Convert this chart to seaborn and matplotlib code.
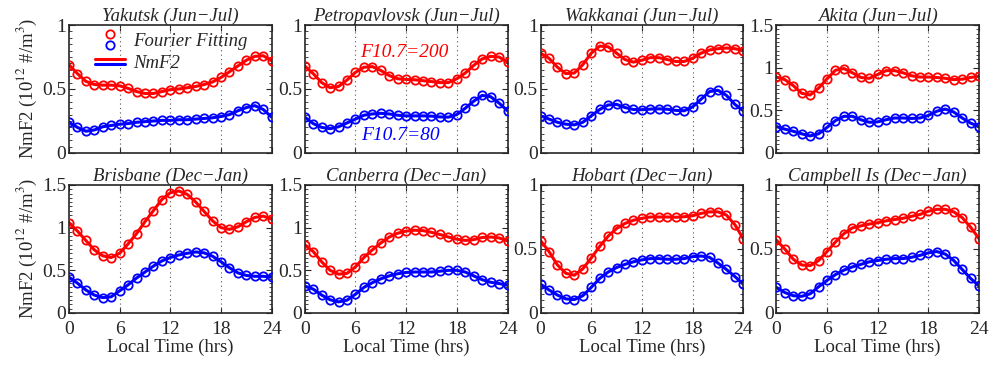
import numpy as np
import pandas as pd
import seaborn as sns
import matplotlib
matplotlib.use('Agg')
import matplotlib.pyplot as plt
from matplotlib.lines import Line2D
from matplotlib.legend_handler import HandlerBase
from matplotlib.ticker import MultipleLocator

sns.set_style('ticks')
plt.rcParams['font.family'] = ['Liberation Serif', 'DejaVu Serif']
plt.rcParams['mathtext.fontset'] = 'stix'

hours = list(range(25))

stations = ['Yakutsk', 'Petropavlovsk', 'Wakkanai', 'Akita',
            'Brisbane', 'Canberra', 'Hobart', 'Campbell Is']
seasons = ['Jun−Jul'] * 4 + ['Dec−Jan'] * 4
ymax = [1, 1, 1, 1.5, 1.5, 1.5, 1, 1]

# F10.7 = 200 (red)
yakutsk_hi = [0.69, 0.62, 0.56, 0.535, 0.53, 0.53, 0.525, 0.505, 0.48, 0.465, 0.465, 0.48, 0.495,
              0.50, 0.51, 0.52, 0.535, 0.555, 0.59, 0.635, 0.68, 0.725, 0.755, 0.76, 0.72]
petro_hi = [0.68, 0.62, 0.55, 0.51, 0.52, 0.57, 0.63, 0.67, 0.675, 0.645, 0.605, 0.58, 0.575,
            0.572, 0.565, 0.558, 0.55, 0.55, 0.58, 0.625, 0.685, 0.735, 0.755, 0.75, 0.71]
wakkanai_hi = [0.78, 0.74, 0.67, 0.62, 0.625, 0.69, 0.78, 0.835, 0.83, 0.78, 0.73, 0.71, 0.725,
               0.745, 0.745, 0.73, 0.715, 0.715, 0.74, 0.78, 0.805, 0.815, 0.82, 0.815, 0.80]
akita_hi = [0.89, 0.86, 0.79, 0.70, 0.68, 0.76, 0.87, 0.97, 0.99, 0.94, 0.885, 0.875, 0.92,
            0.965, 0.965, 0.94, 0.905, 0.89, 0.89, 0.885, 0.875, 0.86, 0.865, 0.885, 0.90]
brisbane_hi = [1.06, 0.96, 0.85, 0.74, 0.67, 0.65, 0.70, 0.81, 0.93, 1.07, 1.20, 1.33, 1.41,
               1.43, 1.39, 1.30, 1.19, 1.08, 1.00, 0.98, 1.01, 1.07, 1.12, 1.135, 1.10]
canberra_hi = [0.80, 0.72, 0.60, 0.50, 0.455, 0.465, 0.54, 0.65, 0.74, 0.82, 0.89, 0.935, 0.96,
               0.97, 0.965, 0.945, 0.92, 0.89, 0.865, 0.85, 0.86, 0.885, 0.89, 0.88, 0.845]
hobart_hi = [0.565, 0.48, 0.375, 0.31, 0.295, 0.345, 0.43, 0.52, 0.60, 0.66, 0.70, 0.725, 0.74,
             0.75, 0.75, 0.75, 0.748, 0.752, 0.76, 0.778, 0.79, 0.79, 0.765, 0.69, 0.58]
campbell_hi = [0.57, 0.50, 0.42, 0.375, 0.37, 0.41, 0.48, 0.555, 0.62, 0.665, 0.68, 0.695, 0.705,
               0.72, 0.73, 0.74, 0.755, 0.77, 0.795, 0.81, 0.81, 0.79, 0.745, 0.67, 0.58]

# F10.7 = 80 (blue)
yakutsk_lo = [0.24, 0.20, 0.17, 0.18, 0.205, 0.215, 0.225, 0.23, 0.24, 0.245, 0.25, 0.255, 0.255,
              0.26, 0.26, 0.265, 0.27, 0.275, 0.285, 0.30, 0.33, 0.355, 0.37, 0.34, 0.28]
petro_lo = [0.28, 0.23, 0.20, 0.19, 0.205, 0.235, 0.265, 0.295, 0.305, 0.31, 0.305, 0.295, 0.29,
            0.29, 0.29, 0.288, 0.282, 0.28, 0.30, 0.35, 0.405, 0.45, 0.44, 0.39, 0.33]
wakkanai_lo = [0.29, 0.265, 0.24, 0.225, 0.22, 0.24, 0.29, 0.34, 0.375, 0.38, 0.355, 0.34, 0.338,
               0.343, 0.345, 0.342, 0.333, 0.33, 0.36, 0.42, 0.48, 0.49, 0.45, 0.38, 0.33]
akita_lo = [0.31, 0.28, 0.255, 0.225, 0.20, 0.225, 0.30, 0.38, 0.43, 0.43, 0.39, 0.36, 0.365,
            0.39, 0.41, 0.41, 0.405, 0.41, 0.44, 0.49, 0.515, 0.48, 0.41, 0.35, 0.31]
brisbane_lo = [0.42, 0.35, 0.27, 0.21, 0.18, 0.19, 0.26, 0.33, 0.41, 0.48, 0.55, 0.61, 0.65,
               0.68, 0.70, 0.715, 0.705, 0.665, 0.60, 0.53, 0.47, 0.44, 0.43, 0.43, 0.42]
canberra_lo = [0.315, 0.28, 0.21, 0.155, 0.13, 0.15, 0.22, 0.30, 0.355, 0.40, 0.435, 0.46, 0.475,
               0.48, 0.48, 0.48, 0.49, 0.50, 0.50, 0.48, 0.435, 0.39, 0.36, 0.345, 0.325]
hobart_lo = [0.225, 0.18, 0.14, 0.11, 0.105, 0.135, 0.20, 0.27, 0.32, 0.355, 0.38, 0.40, 0.415,
             0.425, 0.425, 0.42, 0.42, 0.425, 0.44, 0.445, 0.435, 0.39, 0.34, 0.285, 0.225]
campbell_lo = [0.20, 0.16, 0.135, 0.13, 0.15, 0.205, 0.255, 0.30, 0.335, 0.36, 0.38, 0.40, 0.41,
               0.42, 0.425, 0.425, 0.435, 0.45, 0.47, 0.48, 0.46, 0.41, 0.34, 0.27, 0.21]

hi_series = [yakutsk_hi, petro_hi, wakkanai_hi, akita_hi,
             brisbane_hi, canberra_hi, hobart_hi, campbell_hi]
lo_series = [yakutsk_lo, petro_lo, wakkanai_lo, akita_lo,
             brisbane_lo, canberra_lo, hobart_lo, campbell_lo]

rows = []
for st, hi, lo in zip(stations, hi_series, lo_series):
    for h, a, b in zip(hours, hi, lo):
        rows.append({'station': st, 'hour': h, 'flux': '200', 'nmf2': a})
        rows.append({'station': st, 'hour': h, 'flux': '80', 'nmf2': b})
df = pd.DataFrame(rows)

palette = {'200': '#ff0000', '80': '#0000ff'}
MS = 6.0
MEW = 1.3


class StackHandler(HandlerBase):
    # draws the two handles of a tuple one above the other
    def create_artists(self, legend, orig_handle, xdescent, ydescent, width, height, fontsize, trans):
        out = []
        for k, h in enumerate(orig_handle):
            if h.get_linestyle() in ('None', ''):
                y = height / 2 + (0.45 - 0.9 * k) * height
                a = Line2D([width / 2 - xdescent], [y - ydescent], ls='None', marker='o',
                           mfc='none', mec=h.get_markeredgecolor(), ms=h.get_markersize(),
                           mew=h.get_markeredgewidth())
            else:
                y = height / 2 + (0.2 - 0.4 * k) * height
                a = Line2D([-xdescent, width - xdescent], [y - ydescent] * 2,
                           color=h.get_color(), lw=h.get_linewidth())
            a.set_transform(trans)
            out.append(a)
        return out


fig, axes = plt.subplots(2, 4, figsize=(9.91, 3.65), dpi=100)
fig.subplots_adjust(left=0.0696, right=0.988, top=0.9315, bottom=0.1425, wspace=0.163, hspace=0.25)

for i, ax in enumerate(axes.flat):
    sub = df[df['station'] == stations[i]]
    sns.lineplot(data=sub, x='hour', y='nmf2', hue='flux', palette=palette, lw=2.2,
                 legend=False, ax=ax, zorder=2)
    for fl in ['200', '80']:
        s = sub[sub['flux'] == fl]
        ax.plot(s['hour'], s['nmf2'], ls='None', marker='o', ms=MS, mfc='none',
                mec=palette[fl], mew=MEW, zorder=3)
    ax.set_xlim(0, 24)
    ax.set_ylim(0, ymax[i])
    ax.set_xticks([0, 6, 12, 18, 24])
    yt = [0, 0.5, 1] if ymax[i] == 1 else [0, 0.5, 1, 1.5]
    ax.set_yticks(yt)
    ax.set_yticklabels([('%g' % v) for v in yt])
    ax.yaxis.set_minor_locator(MultipleLocator(0.05))
    ax.tick_params(which='both', direction='in', top=True, right=True, labelsize=14)
    ax.tick_params(axis='y', pad=2)
    ax.tick_params(axis='x', pad=6)
    ax.tick_params(which='major', length=4, width=0.8)
    ax.tick_params(which='minor', length=2, width=0.6)
    for x in [6, 12, 18]:
        ax.axvline(x, color='#555555', ls=(0, (1, 3)), lw=0.8, zorder=1)
    for sp in ax.spines.values():
        sp.set_linewidth(1.2)
        sp.set_visible(True)
    ax.set_title(f'{stations[i]} ({seasons[i]})', style='italic', fontsize=13.5, pad=3)
    if i < 4:
        ax.set_xticklabels([])
        ax.set_xlabel('')
    else:
        ax.set_xlabel('Local Time (hrs)', fontsize=13.5, labelpad=0)
    if i % 4 == 0:
        ax.set_ylabel('NmF2 (10$^{12}$ #/m$^3$)', fontsize=13.5, labelpad=2)
    else:
        ax.set_ylabel('')

# legend in first panel
r_m = Line2D([], [], ls='None', marker='o', mfc='none', mec='#ff0000', ms=MS, mew=MEW)
b_m = Line2D([], [], ls='None', marker='o', mfc='none', mec='#0000ff', ms=MS, mew=MEW)
r_l = Line2D([], [], color='#ff0000', lw=2.2)
b_l = Line2D([], [], color='#0000ff', lw=2.2)
leg = axes[0, 0].legend([(r_m, b_m), (r_l, b_l)], ['Fourier Fitting', 'NmF2'],
                        handler_map={tuple: StackHandler()}, loc='upper left',
                        bbox_to_anchor=(0.045, 1.07), frameon=False, handlelength=1.6,
                        handletextpad=0.43, labelspacing=0.25, prop={'style': 'italic', 'size': 13.5})

axes[0, 1].text(6.5, 0.785, 'F10.7=200', color='#ff0000', style='italic', fontsize=14, va='center')
axes[0, 1].text(6.7, 0.14, 'F10.7=80', color='#0000ff', style='italic', fontsize=14, va='center')

fig.savefig('out.png', dpi=100)
